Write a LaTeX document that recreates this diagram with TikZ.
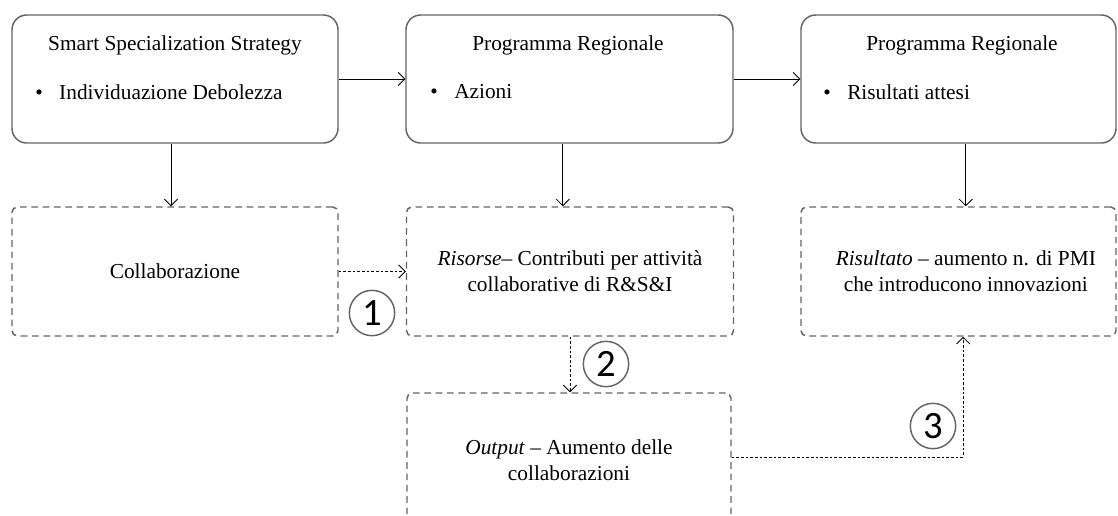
\documentclass[tikz,border=0pt]{standalone}
\usepackage{fontspec}
\setmainfont{Liberation Serif}
\newfontfamily\carlito{Carlito}
\usepackage{tikz}
\usetikzlibrary{arrows.meta}

\definecolor{boxgray}{RGB}{100,100,100}

\begin{document}
\begin{tikzpicture}[x=0.75pt, y=-0.75pt,
    every node/.style={font=\fontsize{16}{19.5}\selectfont, inner sep=0pt},
    >={Straight Barb[length=5pt, width=10pt]},
    topbox/.style={draw=boxgray, line width=1.1pt, rounded corners=11pt, minimum height=96pt},
    dashbox/.style={draw=boxgray, line width=1.1pt, dash pattern=on 5pt off 3.5pt, rounded corners=4pt, align=center},
    num/.style={circle, draw=boxgray, line width=1.1pt, minimum size=34pt, font=\carlito\fontsize{29}{29}\selectfont},
    dotline/.style={dash pattern=on 2pt off 1.5pt}]
    \useasboundingbox (0,0) rectangle (1118,515);
    \clip (0,0) rectangle (1118,515);

    % top row
    \node[topbox, minimum width=244.5pt] (s3) at (175,79) {};
    \node (s3head) at (175,45) {Smart Specialization Strategy};
    \node[anchor=west] (s3item) at (35,92) {\makebox[18pt][l]{\textbullet}Individuazione Debolezza};

    \node[topbox, minimum width=245.25pt] (pr1) at (569.5,79) {};
    \node (pr1head) at (568,45) {Programma Regionale};
    \node[anchor=west] (pr1item) at (430,92) {\makebox[18pt][l]{\textbullet}Azioni};

    \node[topbox, minimum width=236.25pt] (pr2) at (958.5,79) {};
    \node (pr2head) at (962,45) {Programma Regionale};
    \node[anchor=west] (pr2item) at (823,92) {\makebox[18pt][l]{\textbullet}Risultati attesi};

    % second row
    \node[dashbox, minimum width=244.5pt, minimum height=96.75pt] (coll) at (175,271.5) {Collaborazione};
    \node[dashbox, minimum width=245.25pt, minimum height=96.75pt] (ris) at (570,271.5)
        {\textit{Risorse}– Contributi per attività\\collaborative di R\&S\&I};
    \node[dashbox, minimum width=236.25pt, minimum height=96.75pt] (res) at (958.5,271.5)
        {\hspace*{11pt}\textit{Risultato} – aumento n. di PMI\\\hspace*{11pt}che introducono innovazioni};

    % third row
    \node[dashbox, minimum width=243pt, minimum height=100.5pt] (out) at (569,460)
        {\textit{Output} – Aumento delle\\collaborazioni};

    % numbers
    \node[num] (n1) at (372,313) {1};
    \node[num] (n2) at (606,364) {2};
    \node[num] (n3) at (933,426) {3};

    % connectors
    \draw[->, line width=0.6pt] (s3.east) -- (pr1.west);
    \draw[->, line width=0.6pt] (pr1.east) -- (pr2.west);
    \draw[->, line width=0.6pt] ([xshift=-3pt]s3.south) -- ([xshift=-3pt]coll.north);
    \draw[->, line width=0.6pt] ([xshift=-5pt]pr1.south) -- ([xshift=-5pt]pr1.south |- ris.north);
    \draw[->, line width=0.6pt] ([xshift=5.5pt]pr2.south) -- ([xshift=5.5pt]pr2.south |- res.north);

    \draw[->, line width=0.6pt, dotline] (coll.east) -- (ris.west);
    \draw[->, line width=0.6pt, dotline] (ris.south) -- (ris.south |- out.north);
    \draw[->, line width=0.6pt, dotline] ([yshift=2.25pt]out.east) -| ([xshift=3.5pt]res.south);
\end{tikzpicture}
\end{document}
